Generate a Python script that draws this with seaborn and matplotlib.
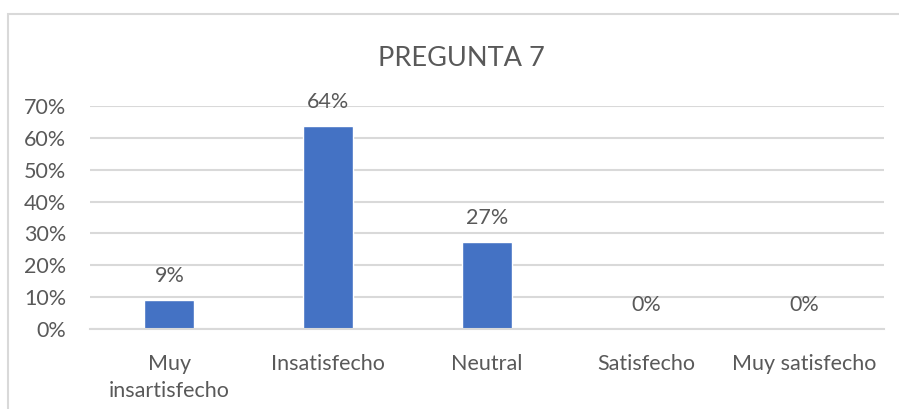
import matplotlib
matplotlib.use("Agg")
import matplotlib.pyplot as plt
from matplotlib.patches import Rectangle
from matplotlib.ticker import PercentFormatter
import seaborn as sns
import pandas as pd

# chart data
categories = ["Muy\ninsartisfecho", "Insatisfecho", "Neutral", "Satisfecho", "Muy satisfecho"]
values = [0.0909, 0.6364, 0.2727, 0.0, 0.0]
y_ticks = [0.0, 0.1, 0.2, 0.3, 0.4, 0.5, 0.6, 0.7]
title = "PREGUNTA 7"

df = pd.DataFrame({"categoria": categories, "valor": values})

sns.set_style("white")
plt.rcParams["font.family"] = ["Lato", "DejaVu Sans"]
text_color = "#595959"
grid_color = "#d9d9d9"
bar_color = "#4472C4"
fs = 15.5

fig = plt.figure(figsize=(8.99, 4.09), dpi=100)

# outer chart frame (clipped on right and bottom like the reference)
fig.patches.append(Rectangle((8 / 899, -0.1), 1.2, (409 - 14) / 409 + 0.1,
                             transform=fig.transFigure, fill=False,
                             edgecolor=grid_color, linewidth=1.5))

ax = fig.add_axes([90 / 899, 1 - 329 / 409, 794 / 899, 223 / 409])
sns.barplot(data=df, x="categoria", y="valor", color=bar_color,
            width=0.315, saturation=1, ax=ax)

ax.set_ylim(0, 0.7)
ax.set_yticks(y_ticks)
ax.yaxis.set_major_formatter(PercentFormatter(1.0, decimals=0))
ax.grid(axis="y", color=grid_color, linewidth=1.5)
ax.set_axisbelow(True)
for s in ax.spines.values():
    s.set_visible(False)
ax.spines["bottom"].set_visible(True)
ax.spines["bottom"].set_color(grid_color)
ax.spines["bottom"].set_linewidth(1.5)
ax.tick_params(axis="both", length=0, labelsize=fs, labelcolor=text_color)
ax.tick_params(axis="y", pad=17)
ax.tick_params(axis="x", pad=18)
for lbl in ax.get_xticklabels():
    lbl.set_linespacing(1.45)
ax.set_xlabel("")
ax.set_ylabel("")

for i, v in enumerate(values):
    ax.annotate(f"{v * 100:.0f}%", (i, v), xytext=(0, 10), textcoords="offset points",
                ha="center", va="bottom", fontsize=fs, color=text_color)

fig.text(461 / 899, 1 - 58 / 409, title, ha="center", va="center",
         fontsize=19.5, color=text_color)

fig.savefig("out.png", dpi=100)
